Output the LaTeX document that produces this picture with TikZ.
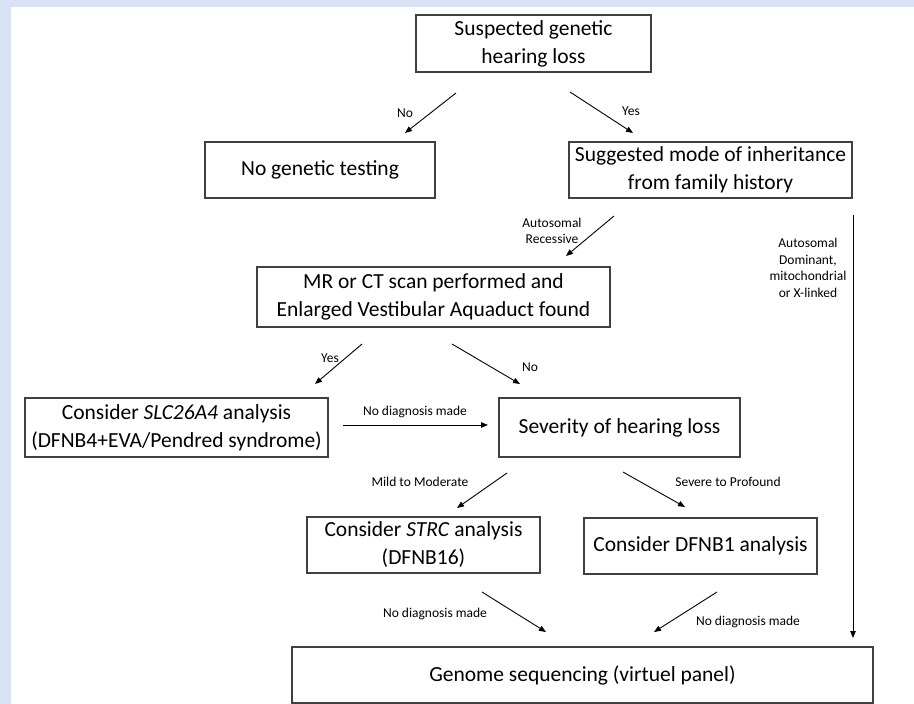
\documentclass[tikz,border=0pt]{standalone}
\usepackage{fontspec}
\setmainfont{Carlito}
\usetikzlibrary{arrows.meta}
\definecolor{pageblue}{RGB}{218,227,243}
\definecolor{boxline}{RGB}{64,64,64}
\tikzset{
  flow box/.style={
    rectangle, draw=boxline, line width=1.2pt, fill=white,
    align=center, inner sep=1pt,
    font=\fontsize{21.5}{28}\selectfont
  },
  flow arrow/.style={-{Triangle[length=7pt,width=5.5pt]}, line width=0.9pt},
  flow label/.style={align=center, inner sep=0pt, font=\fontsize{13.5}{16.5}\selectfont}
}

\begin{document}
\begin{tikzpicture}[x=1pt,y=-1pt]
    \fill[pageblue] (0,0) rectangle (914,704);
    \fill[white] (11,7) rectangle (914,704);
    \useasboundingbox (0,0) rectangle (914,704);

    % boxes
    \node[flow box, minimum width=235pt, minimum height=57pt] (suspected) at (533.5,43.5)
      {Suspected genetic\\hearing loss};
    \node[flow box, minimum width=230pt, minimum height=56pt] (notesting) at (320,170)
      {No genetic testing};
    \node[flow box, minimum width=283pt, minimum height=56pt] (inheritance) at (710.5,170)
      {Suggested mode of inheritance\\from family history};
    \node[flow box, minimum width=353pt, minimum height=60pt] (scan) at (433.5,297)
      {MR or CT scan performed and\\Enlarged Vestibular Aquaduct found};
    \node[flow box, minimum width=303pt, minimum height=59pt] (slc) at (176.5,427.5)
      {Consider \textit{SLC26A4} analysis\\(DFNB4+EVA/Pendred syndrome)};
    \node[flow box, minimum width=241pt, minimum height=59pt] (severity) at (619.5,427.5)
      {Severity of hearing loss};
    \node[flow box, minimum width=233pt, minimum height=56pt] (strc) at (423.5,545)
      {Consider \textit{STRC} analysis\\(DFNB16)};
    \node[flow box, minimum width=233pt, minimum height=56pt] (dfnb) at (700.5,546)
      {Consider DFNB1 analysis};
    \node[flow box, minimum width=581pt, minimum height=56pt] (genome) at (582.5,675)
      {Genome sequencing (virtuel panel)};

    % arrow ends
    \coordinate (no-a) at (456,93);    \coordinate (no-b) at (405,133);
    \coordinate (yes-a) at (570,92);   \coordinate (yes-b) at (633,133);
    \coordinate (rec-a) at (614,216);  \coordinate (rec-b) at (566,256);
    \coordinate (dom-a) at (853,215);  \coordinate (dom-b) at (853,638);
    \coordinate (eva-a) at (362,344);  \coordinate (eva-b) at (315,384);
    \coordinate (noeva-a) at (452,344); \coordinate (noeva-b) at (520,384);
    \coordinate (slc-a) at (343,425);  \coordinate (slc-b) at (488,425);
    \coordinate (mild-a) at (507,473); \coordinate (mild-b) at (457,508);
    \coordinate (sev-a) at (623,472);  \coordinate (sev-b) at (685,507);
    \coordinate (strc-a) at (482,592); \coordinate (strc-b) at (546,632);
    \coordinate (dfnb-a) at (717,592); \coordinate (dfnb-b) at (654,632);

    \draw[flow arrow] (no-a) -- (no-b);
    \draw[flow arrow] (yes-a) -- (yes-b);
    \draw[flow arrow] (rec-a) -- (rec-b);
    \draw[flow arrow] (dom-a) -- (dom-b);
    \draw[flow arrow] (eva-a) -- (eva-b);
    \draw[flow arrow] (noeva-a) -- (noeva-b);
    \draw[flow arrow] (slc-a) -- (slc-b);
    \draw[flow arrow] (mild-a) -- (mild-b);
    \draw[flow arrow] (sev-a) -- (sev-b);
    \draw[flow arrow] (strc-a) -- (strc-b);
    \draw[flow arrow] (dfnb-a) -- (dfnb-b);

    % labels
    \node[flow label] (no-lbl) at (405,113) {No};
    \node[flow label] (yes-lbl) at (631,111) {Yes};
    \node[flow label] (rec-lbl) at (552,231) {Autosomal\\Recessive};
    \node[flow label] (dom-lbl) at (808,268) {Autosomal\\Dominant,\\mitochondrial\\or X-linked};
    \node[flow label] (eva-lbl) at (330,358) {Yes};
    \node[flow label] (noeva-lbl) at (530,367) {No};
    \node[flow label] (slc-lbl) at (415,412) {No diagnosis made};
    \node[flow label] (mild-lbl) at (420,482) {Mild to Moderate};
    \node[flow label] (sev-lbl) at (728,482) {Severe to Profound};
    \node[flow label] (strc-lbl) at (435,614) {No diagnosis made};
    \node[flow label] (dfnb-lbl) at (748,622) {No diagnosis made};
\end{tikzpicture}
\end{document}
